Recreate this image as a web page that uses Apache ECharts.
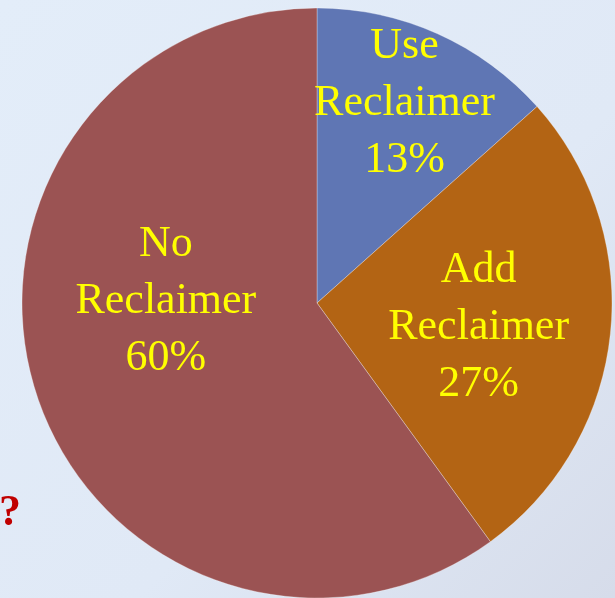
<!DOCTYPE html>
<html><head><meta charset="utf-8">
<script src="https://cdn.jsdelivr.net/npm/echarts@6/dist/echarts.min.js"></script>
<style>html,body{margin:0;padding:0;}#c{width:615px;height:598px;}</style>
</head><body><div id="c"></div>
<script>
const categories = ['Use\nReclaimer', 'Add\nReclaimer', 'No\nReclaimer'];
const values = [13.4, 26.6, 60.0];
const colors = ['#5f76b4', '#b36414', '#9b5353'];
const labelShift = [[26, -62], [12, 8], [-8, -48]];

const chart = echarts.init(document.getElementById('c'));
chart.setOption({
  backgroundColor: {
    type: 'linear', x: 0, y: 0, x2: 1, y2: 1,
    colorStops: [{offset: 0, color: '#e3edf9'}, {offset: 0.6, color: '#e0e9f6'}, {offset: 1, color: '#d6dcea'}]
  },
  title: {
    text: '?', left: -6, top: 487,
    textStyle: {color: '#c00000', fontFamily: 'Liberation Serif', fontWeight: 'bold', fontSize: 44}
  },
  animation: false,
  series: [{
    type: 'pie',
    center: [317, 303],
    radius: [0, 295],
    startAngle: 90,
    clockwise: true,
    data: categories.map((c, i) => ({name: c, value: values[i], itemStyle: {color: colors[i]}})),
    itemStyle: {borderColor: 'rgba(255,255,255,0.5)', borderWidth: 0.6},
    label: {
      show: true, position: 'inside',
      formatter: p => p.name + '\n' + Math.round(p.percent) + '%',
      color: '#ffff00', fontFamily: 'Liberation Serif', fontSize: 44, lineHeight: 57
    },
    labelLayout: p => ({dx: labelShift[p.dataIndex][0], dy: labelShift[p.dataIndex][1]}),
    labelLine: {show: false},
    emphasis: {disabled: true}
  }]
});
</script></body></html>
